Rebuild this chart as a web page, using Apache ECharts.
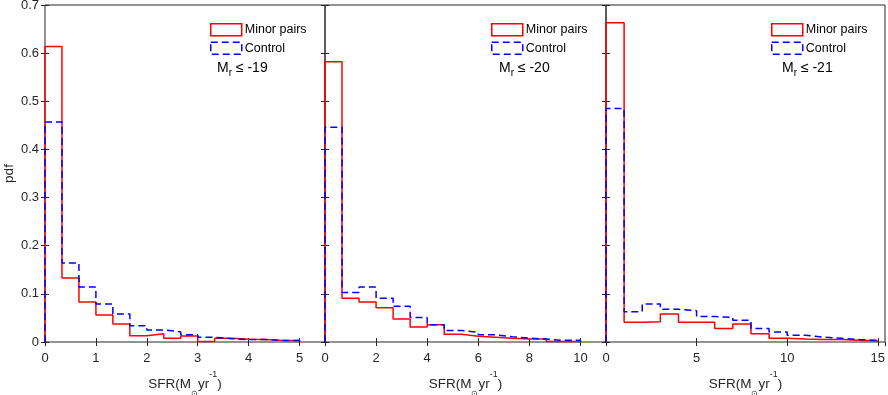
<!DOCTYPE html>
<html><head><meta charset="utf-8">
<script src="https://cdn.jsdelivr.net/npm/echarts@6/dist/echarts.min.js"></script>
<style>html,body{margin:0;padding:0;background:#fff}#c{width:888px;height:395px}</style>
</head><body><div id="c"></div>
<script>
// ---- data ----
const binWidths = [1/3, 2/3, 1];            // SFR bin width per panel
const xMaxes = [5.5, 11, 15.4];
const xIntervals = [1, 2, 5];
const magLabels = ['-19', '-20', '-21'];
const seriesNames = ['Minor pairs', 'Control'];

const minorPairs19 = [0.614, 0.133, 0.083, 0.056, 0.0375, 0.013, 0.017, 0.008, 0.0125, 0.001, 0.008, 0.0055, 0.005, 0.003, 0.003];
const control19    = [0.457, 0.164, 0.114, 0.079, 0.058, 0.034, 0.025, 0.021, 0.015, 0.0097, 0.007, 0.005, 0.005, 0.0035, 0.003];
const minorPairs20 = [0.582, 0.091, 0.083, 0.071, 0.048, 0.031, 0.036, 0.016, 0.012, 0.010, 0.0076, 0.006, 0.006, 0.001, 0.001];
const control20    = [0.446, 0.103, 0.114, 0.091, 0.074, 0.051, 0.036, 0.024, 0.020, 0.015, 0.011, 0.008, 0.006, 0.0035, 0.0035];
const minorPairs21 = [0.663, 0.041, 0.042, 0.058, 0.041, 0.041, 0.028, 0.0375, 0.017, 0.008, 0.006, 0.005, 0.005, 0.0035, 0.002];
const control21    = [0.485, 0.063, 0.079, 0.068, 0.065, 0.053, 0.051, 0.045, 0.028, 0.021, 0.014, 0.010, 0.0076, 0.005, 0.0035];

const panelData = [[minorPairs19, control19], [minorPairs20, control20], [minorPairs21, control21]];

// ---- helpers ----
function stepPoints(values, w) {
  const pts = [[0, 0]];
  values.forEach((v, i) => { pts.push([i * w, v]); pts.push([(i + 1) * w, v]); });
  pts.push([values.length * w, 0]);
  return pts;
}

const FONT = 'Liberation Sans, Arial, Helvetica, sans-serif';
const AX = '#262626';
const grids = [
  {left: 45, width: 280, top: 5, height: 337},
  {left: 325, width: 281, top: 5, height: 337},
  {left: 606, width: 279, top: 5, height: 337}
];
const colors = ['#ff0000', '#0000ff'];
const dash = [7, 4];

const xAxes = [], yAxes = [], series = [], legends = [], titles = [];
grids.forEach((g, i) => {
  g.show = true; g.borderColor = AX; g.borderWidth = 1; g.backgroundColor = 'transparent';
  g.containLabel = false; g.outerBoundsMode = 'none';
  const common = {type: 'value', gridIndex: i, min: 0, max: xMaxes[i], interval: xIntervals[i], splitLine: {show: false},
    axisLine: {show: false}, axisTick: {inside: true, length: 4, lineStyle: {color: AX}}};
  xAxes.push(Object.assign({}, common, {position: 'bottom',
    axisLabel: {show: true, showMaxLabel: false, color: AX, fontSize: 13, fontFamily: FONT, margin: 10},
    name: '{a|SFR(M}{b|⊙}{a|yr}{c|-1}{a|)}', nameLocation: 'middle', nameGap: 23,
    nameTextStyle: {rich: {
      a: {fontSize: 13.5, lineHeight: 28, color: AX, fontFamily: FONT},
      b: {fontSize: 8, lineHeight: 8, verticalAlign: 'bottom', color: AX, fontFamily: FONT},
      c: {fontSize: 9, lineHeight: 22, verticalAlign: 'top', color: AX, fontFamily: FONT}
    }}}));
  const ycommon = {type: 'value', gridIndex: i, min: 0, max: 0.7, interval: 0.1, splitLine: {show: false},
    axisLine: {show: false}, axisTick: {inside: true, length: 4, lineStyle: {color: AX}}};
  yAxes.push(Object.assign({}, ycommon, {position: 'left',
    axisLabel: {show: i === 0, color: AX, fontSize: 13, fontFamily: FONT, margin: 6},
    name: i === 0 ? 'pdf' : '', nameLocation: 'middle', nameGap: 29, nameRotate: 90,
    nameTextStyle: {color: AX, fontSize: 13.5, fontFamily: FONT}}));
  panelData[i].forEach((vals, k) => {
    series.push({
      type: 'line', name: seriesNames[k], xAxisIndex: i, yAxisIndex: i,
      data: stepPoints(vals, binWidths[i]), showSymbol: false, symbol: 'none', clip: false, animation: false,
      lineStyle: {color: colors[k], width: 1.5, type: k === 1 ? dash : 'solid'},
      itemStyle: {color: colors[k]}, z: 2 + k
    });
  });
});
// mirrored top/right axes (ticks only)
grids.forEach((g, i) => {
  xAxes.push({type: 'value', gridIndex: i, position: 'top', min: 0, max: xMaxes[i], interval: xIntervals[i],
    splitLine: {show: false}, axisLine: {show: false}, axisLabel: {show: false},
    axisTick: {inside: true, length: 4, lineStyle: {color: AX}}});
  yAxes.push({type: 'value', gridIndex: i, position: 'right', min: 0, max: 0.7, interval: 0.1,
    splitLine: {show: false}, axisLine: {show: false}, axisLabel: {show: false},
    axisTick: {inside: true, length: 4, lineStyle: {color: AX}}});
});

const legendLefts = [210, 491, 771];
const titleLefts = [217, 499, 782];
legendLefts.forEach((lx, i) => {
  legends.push({
    left: lx, top: 23, orient: 'vertical', padding: 0, itemWidth: 31, itemHeight: 12, itemGap: 5,
    selectedMode: false, icon: 'rect',
    textStyle: {color: '#000', fontSize: 12.5, fontFamily: FONT, padding: [0, 0, 0, -2]},
    data: seriesNames.map((n, k) => ({name: n, icon: 'rect',
      itemStyle: {color: 'rgba(0,0,0,0)', borderColor: colors[k], borderWidth: 1.5, borderType: k === 1 ? dash : 'solid'}}))
  });
  titles.push({
    left: titleLefts[i], top: 58, padding: 0,
    text: '{m|M}{s|r}{m| ≤ ' + magLabels[i] + '}',
    textStyle: {fontWeight: 'normal', rich: {
      m: {fontSize: 14, lineHeight: 20, color: '#000', fontFamily: FONT, fontWeight: 'normal'},
      s: {fontSize: 10, lineHeight: 10, verticalAlign: 'bottom', color: '#000', fontFamily: FONT, fontWeight: 'normal'}
    }}
  });
});

const chart = echarts.init(document.getElementById('c'), null, {renderer: 'canvas'});
chart.setOption({
  animation: false,
  backgroundColor: '#fff',
  grid: grids, xAxis: xAxes, yAxis: yAxes, series: series, legend: legends, title: titles
});
</script></body></html>
